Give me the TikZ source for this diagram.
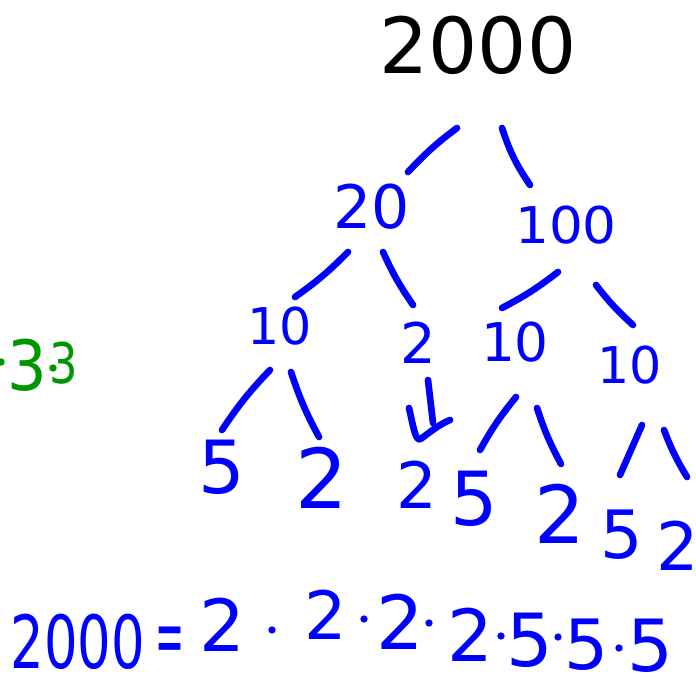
\documentclass[tikz,border=0pt]{standalone}
\usepackage{fontspec}
\setmainfont{DejaVu Sans}
\begin{document}
\begin{tikzpicture}[x=0.75pt,y=-0.75pt,
  ink/.style={draw=inkblue,line width=5pt,line cap=round,line join=round},
  dig/.style={inner sep=0pt,text=inkblue,font=\fontsize{#1pt}{#1pt}\selectfont},
  gdig/.style={inner sep=0pt,text=inkgreen,font=\fontsize{#1pt}{#1pt}\selectfont},
  dot/.style={fill=inkblue,draw=none,circle,inner sep=0pt,minimum size=5.5pt}]
\definecolor{inkblue}{RGB}{0,0,255}
\definecolor{inkgreen}{RGB}{0,150,0}
\useasboundingbox (0,0) rectangle (696,680);
\fill[white] (0,0) rectangle (696,680);

% the number being factored
\node[inner sep=0pt,font=\fontsize{58pt}{58pt}\selectfont] (top) at (478,45) {2000};

% first level
\node[dig=45] (n20) at (372,207) {20};
\node[dig=38,xscale=1.05] (n100) at (566,225) {100};

% second level
\node[dig=38] (n10a) at (280,326) {10};
\node[dig=42] (n2a) at (418,343) {2};
\node[dig=40] (n10b) at (515,342) {10};
\node[dig=38] (n10c) at (630,365) {10};

% leaves
\node[dig=55] (l5a) at (222,467) {5};
\node[dig=62] (l2a) at (322,478) {2};
\node[dig=48] (l2b) at (417,485) {2};
\node[dig=56] (l5b) at (474,499) {5};
\node[dig=60] (l2c) at (560,514) {2};
\node[dig=50] (l5c) at (622,535) {5};
\node[dig=50] (l2d) at (678,546) {2};

% stroke end points
\coordinate (t1) at (457,128); \coordinate (t2) at (408,172);
\coordinate (t3) at (502,128); \coordinate (t4) at (530,185);
\coordinate (a1) at (348,252); \coordinate (a2) at (295,297);
\coordinate (a3) at (383,252); \coordinate (a4) at (413,305);
\coordinate (b1) at (558,272); \coordinate (b2) at (502,308);
\coordinate (b3) at (596,285); \coordinate (b4) at (633,325);
\coordinate (c1) at (270,370); \coordinate (c2) at (222,430);
\coordinate (c3) at (291,372); \coordinate (c4) at (319,437);
\coordinate (d1) at (428,380); \coordinate (d2) at (433,423);
\coordinate (d3) at (409,408); \coordinate (d4) at (422,438); \coordinate (d5) at (450,420);
\coordinate (e1) at (516,397); \coordinate (e2) at (480,450);
\coordinate (e3) at (537,408); \coordinate (e4) at (561,464);
\coordinate (f1) at (642,425); \coordinate (f2) at (620,475);
\coordinate (f3) at (664,430); \coordinate (f4) at (687,477);

% branches
\draw[ink] (t1) to[bend right=5] (t2);
\draw[ink] (t3) to[bend right=8] (t4);
\draw[ink] (a1) to[bend left=5] (a2);
\draw[ink] (a3) to[bend right=5] (a4);
\draw[ink] (b1) to[bend left=5] (b2);
\draw[ink] (b3) to[bend right=5] (b4);
\draw[ink] (c1) to[bend right=5] (c2);
\draw[ink] (c3) to[bend right=5] (c4);
\draw[ink] (e1) to[bend right=5] (e2);
\draw[ink] (e3) to[bend right=5] (e4);
\draw[ink] (f1) -- (f2);
\draw[ink] (f3) to[bend right=5] (f4);
% hand-drawn arrow below the prime 2
\draw[ink] (d1) -- (d2);
\draw[ink] (d3) .. controls (414,430) and (416,444) .. (d4) .. controls (430,432) and (440,424) .. (d5);

% green note at the left edge
\fill[inkgreen] (1,362) circle (2.8pt);
\node[gdig=52,xscale=0.9] (g3a) at (27,365) {3};
\fill[inkgreen] (53,368) circle (2.8pt);
\node[gdig=42,xscale=0.8] (g3b) at (64,363) {3};

% the factorisation
\node[dig=55,xscale=0.72] (q2000) at (78,642) {2000};
\node[dig=62,xscale=0.42] (qeq) at (170,646) {=};
\node[dig=54] (p1) at (222,625) {2};
\node[dot] (s1) at (272,630) {};
\node[dig=50] (p2) at (326,615) {2};
\node[dot] (s2) at (364,619) {};
\node[dig=56] (p3) at (400,622) {2};
\node[dot] (s3) at (429,623) {};
\node[dig=54] (p4) at (470,635) {2};
\node[dot] (s4) at (501,636) {};
\node[dig=55] (p5) at (530,640) {5};
\node[dot] (s5) at (558,637) {};
\node[dig=52] (p6) at (587,645) {5};
\node[dot] (s6) at (619,648) {};
\node[dig=54] (p7) at (650,646) {5};
\end{tikzpicture}
\end{document}
